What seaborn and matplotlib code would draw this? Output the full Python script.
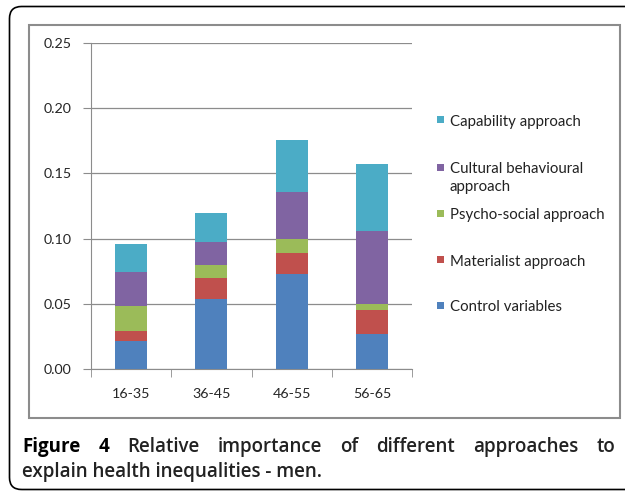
import numpy as np
import pandas as pd
import seaborn as sns
import matplotlib.pyplot as plt
from matplotlib.patches import Rectangle, FancyBboxPatch

# data
age_groups = ['16-35', '36-45', '46-55', '56-65']
control = [0.0217, 0.0537, 0.0726, 0.0268]
materialist = [0.0072, 0.0158, 0.0164, 0.0187]
psycho_social = [0.0194, 0.0103, 0.0107, 0.0046]
cultural = [0.0263, 0.0176, 0.0363, 0.0560]
capability = [0.0210, 0.0220, 0.0394, 0.0511]

series_names = ['Control variables', 'Materialist approach', 'Psycho-social approach',
                'Cultural behavioural\napproach', 'Capability approach']
colors = ['#4F81BD', '#C0504D', '#9BBB59', '#8064A2', '#4BACC6']

sns.set_style('white')
plt.rcParams['font.family'] = ['Lato', 'DejaVu Sans']

df = pd.DataFrame({'age': age_groups, 's0': control, 's1': materialist, 's2': psycho_social,
                   's3': cultural, 's4': capability})
cols = ['s0', 's1', 's2', 's3', 's4']
cum = df[cols].cumsum(axis=1)

fig = plt.figure(figsize=(6.25, 4.94), dpi=100)
ax = fig.add_axes([0.1456, 0.253, 0.5136, 0.66])

# stacked bars: draw cumulative totals from the top layer down
for i in reversed(range(len(cols))):
    sns.barplot(x=df['age'], y=cum[cols[i]], color=colors[i], width=0.4,
                saturation=1, linewidth=0, ax=ax, zorder=3)

ax.set_ylim(0, 0.25)
ax.set_xlim(-0.5, 3.5)
ax.set_yticks(np.arange(0, 0.26, 0.05))
ax.set_yticklabels(['%.2f' % v for v in np.arange(0, 0.26, 0.05)])
ax.set_xlabel('')
ax.set_ylabel('')
ax.yaxis.grid(True, color='#8c8c8c', lw=0.9, zorder=0)
ax.set_axisbelow(True)
for s in ['top', 'right']:
    ax.spines[s].set_visible(False)
ax.spines['left'].set_color('#8c8c8c')
ax.spines['bottom'].set_color('#8c8c8c')
ax.tick_params(axis='y', length=6, color='#8c8c8c', labelsize=10.3, pad=8, left=True)
ax.set_xticks([-0.5, 0.5, 1.5, 2.5, 3.5], minor=True)
ax.tick_params(axis='x', which='minor', length=6, color='#8c8c8c', bottom=True)
ax.tick_params(axis='x', which='major', length=0, labelsize=10.3, pad=14)

# legend, Excel style: top entry is the last series
legend_y = [307, 262, 215, 169, 122]   # pixel rows of each entry's first line
for i in range(5):
    yf = 1 - (legend_y[i] - 2) / 494
    fig.patches.append(Rectangle((437 / 625, yf - 3.5 / 494), 7 / 625, 7 / 494,
                                 transform=fig.transFigure, facecolor=colors[i],
                                 edgecolor='none'))
    for k, line in enumerate(series_names[i].split('\n')):
        fig.text(450 / 625, 1 - (legend_y[i] + 18 * k) / 494, line, fontsize=10.8,
                 va='center', ha='left', color='#222222')

# chart area frame and outer rounded border
fig.patches.append(Rectangle((29 / 625, 1 - 418 / 494), 591 / 625, 393 / 494,
                             transform=fig.transFigure, fill=False,
                             edgecolor='#8c8c8c', lw=1.5))
fig.patches.append(FancyBboxPatch((0.095, 0.045), 6.5, 4.83,
                                  boxstyle='round,pad=0,rounding_size=0.12',
                                  transform=fig.dpi_scale_trans, fill=False,
                                  edgecolor='black', lw=1.2))

# caption, first line justified between x=22 and x=615 px
cap_font = ['Open Sans', 'DejaVu Sans']
line1 = ['Figure', '4', 'Relative', 'importance', 'of', 'different', 'approaches', 'to']
renderer = fig.canvas.get_renderer()
words = []
for j, w in enumerate(line1):
    bold = 'bold' if j < 2 else 'semibold'
    col = 'black' if j < 2 else '#222222'
    words.append(fig.text(0, 1 - 452 / 494, w, fontsize=13.5, fontweight=bold,
                          color=col, family=cap_font))
widths = [t.get_window_extent(renderer).width for t in words]
gap = (615 - 22 - sum(widths)) / (len(words) - 1)
x = 22
for t, wd in zip(words, widths):
    t.set_x(x / 625)
    x += wd + gap
fig.text(22 / 625, 1 - 477 / 494, 'explain health inequalities - men.',
         fontsize=13.5, fontweight='semibold', color='#222222', family=cap_font)

fig.savefig('out.png', dpi=100)
